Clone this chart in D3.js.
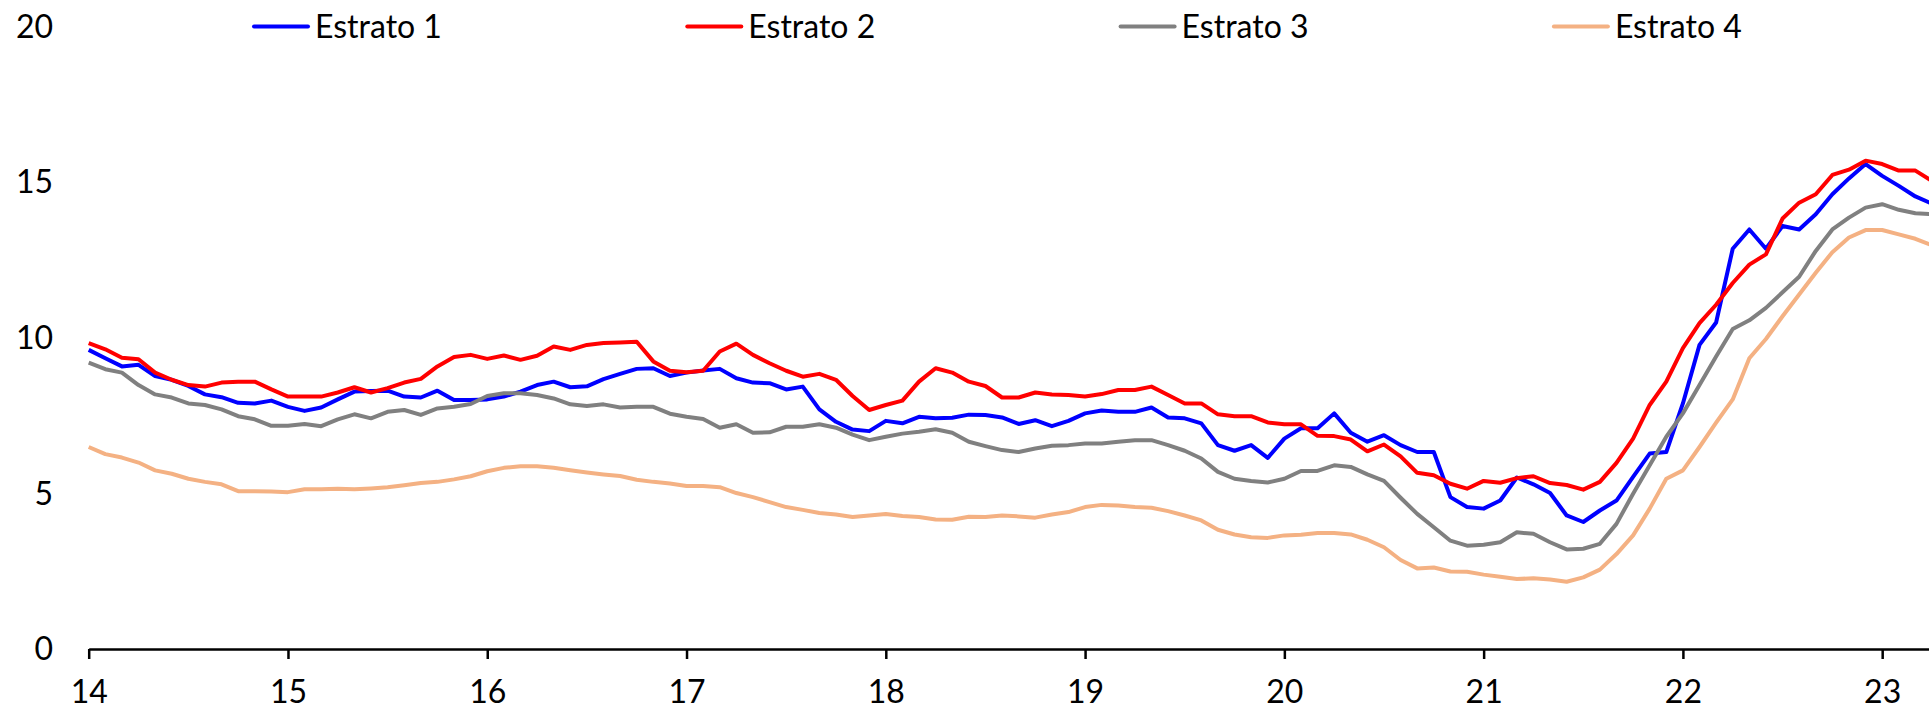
<!DOCTYPE html>
<html>
<head>
<meta charset="utf-8">
<script src="https://cdn.jsdelivr.net/npm/d3@7"></script>
<style>
  body { margin: 0; background: #fff; }
  svg { display: block; }
  text { font-family: Lato, "Open Sans", sans-serif; fill: #000; }
</style>
</head>
<body>
<svg width="1929" height="711"></svg>
<script>
// monthly series, Jan 2014 onwards
var estrato1 = [9.61, 9.34, 9.08, 9.13, 8.77, 8.65, 8.45, 8.18, 8.09, 7.91, 7.89, 7.98,
  7.78, 7.65, 7.76, 8.02, 8.27, 8.29, 8.30, 8.11, 8.08, 8.30, 8.00, 8.00,
  8.02, 8.11, 8.27, 8.48, 8.59, 8.41, 8.44, 8.67, 8.84, 9.00, 9.02, 8.77,
  8.88, 8.95, 9.00, 8.70, 8.56, 8.54, 8.34, 8.43, 7.70, 7.30, 7.05, 7.00,
  7.33, 7.25, 7.46, 7.41, 7.43, 7.53, 7.52, 7.44, 7.23, 7.35, 7.16, 7.33,
  7.57, 7.66, 7.62, 7.62, 7.76, 7.44, 7.41, 7.25, 6.55, 6.37, 6.55, 6.14,
  6.76, 7.09, 7.09, 7.57, 6.95, 6.66, 6.87, 6.55, 6.33, 6.33, 4.88, 4.56,
  4.51, 4.77, 5.51, 5.29, 5.01, 4.29, 4.08, 4.45, 4.77, 5.53, 6.28, 6.33,
  7.89, 9.77, 10.49, 12.86, 13.48, 12.86, 13.59, 13.48, 13.97, 14.61, 15.12, 15.58,
  15.20, 14.88, 14.54, 14.31];

var estrato2 = [9.83, 9.63, 9.36, 9.31, 8.88, 8.65, 8.48, 8.43, 8.56, 8.59, 8.59, 8.34,
  8.11, 8.11, 8.11, 8.24, 8.41, 8.24, 8.38, 8.56, 8.68, 9.08, 9.38, 9.45,
  9.32, 9.43, 9.29, 9.42, 9.72, 9.61, 9.77, 9.83, 9.85, 9.87, 9.24, 8.94,
  8.89, 8.94, 9.56, 9.81, 9.45, 9.18, 8.94, 8.75, 8.84, 8.65, 8.13, 7.68,
  7.84, 7.98, 8.59, 9.02, 8.88, 8.59, 8.45, 8.08, 8.08, 8.24, 8.18, 8.16,
  8.11, 8.19, 8.32, 8.32, 8.43, 8.16, 7.89, 7.89, 7.54, 7.48, 7.48, 7.28,
  7.22, 7.22, 6.85, 6.84, 6.73, 6.35, 6.57, 6.19, 5.66, 5.58, 5.31, 5.15,
  5.40, 5.34, 5.49, 5.55, 5.33, 5.27, 5.12, 5.37, 5.98, 6.76, 7.84, 8.59,
  9.67, 10.47, 11.06, 11.76, 12.35, 12.68, 13.83, 14.34, 14.61, 15.23, 15.40, 15.69,
  15.58, 15.37, 15.37, 15.04];

var estrato3 = [9.20, 8.99, 8.88, 8.48, 8.18, 8.08, 7.89, 7.84, 7.70, 7.48, 7.38, 7.17,
  7.17, 7.23, 7.16, 7.38, 7.54, 7.41, 7.62, 7.68, 7.52, 7.73, 7.78, 7.87,
  8.13, 8.22, 8.22, 8.16, 8.05, 7.86, 7.81, 7.86, 7.76, 7.78, 7.78, 7.56,
  7.46, 7.39, 7.11, 7.22, 6.95, 6.96, 7.14, 7.14, 7.22, 7.11, 6.89, 6.71,
  6.82, 6.92, 6.98, 7.06, 6.95, 6.66, 6.52, 6.39, 6.33, 6.44, 6.53, 6.55,
  6.60, 6.60, 6.66, 6.71, 6.71, 6.55, 6.37, 6.12, 5.69, 5.47, 5.40, 5.35,
  5.47, 5.72, 5.72, 5.90, 5.85, 5.61, 5.40, 4.86, 4.34, 3.91, 3.48, 3.32,
  3.35, 3.43, 3.75, 3.70, 3.43, 3.20, 3.22, 3.38, 4.02, 4.99, 5.90, 6.82,
  7.57, 8.48, 9.40, 10.28, 10.56, 10.96, 11.46, 11.96, 12.79, 13.48, 13.86, 14.18,
  14.29, 14.11, 14.00, 13.97];

var estrato4 = [6.49, 6.26, 6.15, 5.99, 5.74, 5.63, 5.47, 5.37, 5.29, 5.07, 5.07, 5.06,
  5.04, 5.13, 5.13, 5.15, 5.13, 5.16, 5.20, 5.26, 5.33, 5.37, 5.45, 5.55,
  5.71, 5.82, 5.87, 5.87, 5.82, 5.74, 5.67, 5.61, 5.56, 5.44, 5.37, 5.32,
  5.24, 5.24, 5.20, 5.01, 4.88, 4.72, 4.56, 4.47, 4.37, 4.32, 4.24, 4.29,
  4.34, 4.27, 4.24, 4.16, 4.15, 4.25, 4.24, 4.29, 4.26, 4.22, 4.32, 4.40,
  4.56, 4.63, 4.61, 4.56, 4.54, 4.43, 4.29, 4.13, 3.83, 3.68, 3.59, 3.57,
  3.65, 3.67, 3.73, 3.73, 3.68, 3.51, 3.27, 2.86, 2.59, 2.62, 2.49, 2.48,
  2.39, 2.32, 2.25, 2.27, 2.23, 2.16, 2.30, 2.55, 3.05, 3.65, 4.51, 5.47,
  5.74, 6.49, 7.27, 8.02, 9.34, 9.96, 10.69, 11.39, 12.09, 12.75, 13.22, 13.46,
  13.46, 13.32, 13.18, 12.97];

var seriesNames = ["Estrato 1", "Estrato 2", "Estrato 3", "Estrato 4"];
var seriesColors = ["#0000ff", "#ff0000", "#808080", "#f4b183"];
var yearTicks = [14, 15, 16, 17, 18, 19, 20, 21, 22, 23];
var valueTicks = [0, 5, 10, 15, 20];

var allSeries = [estrato1, estrato2, estrato3, estrato4];

var svg = d3.select("svg");

var x = d3.scaleLinear().domain([14, 23.25]).range([88.7, 1932]);
var y = d3.scaleLinear().domain([0, 20]).range([649, 26.5]);

// y labels, no axis line
svg.append("g")
  .selectAll("text")
  .data(valueTicks)
  .enter().append("text")
  .attr("x", 53)
  .attr("y", function(d) { return y(d); })
  .attr("dy", "0.35em")
  .attr("text-anchor", "end")
  .style("font-size", "32px")
  .text(function(d) { return d; });

// x axis
var xAxis = svg.append("g")
  .attr("transform", "translate(0," + y(0) + ")")
  .call(d3.axisBottom(x).tickValues(yearTicks).tickSize(10).tickSizeOuter(0).tickFormat(function(d) { return d; }));

xAxis.select(".domain").attr("stroke", "#000").attr("stroke-width", 2.5);
xAxis.selectAll(".tick line").attr("stroke", "#000").attr("stroke-width", 2.5);
xAxis.selectAll(".tick text")
  .attr("y", 43)
  .attr("dy", "0.35em")
  .style("font-size", "32px")
  .style("font-family", "Lato, 'Open Sans', sans-serif")
  .attr("fill", "#000");

var line = d3.line()
  .x(function(d, i) { return x(14 + i / 12); })
  .y(function(d) { return y(d); });

svg.append("g")
  .selectAll("path")
  .data(allSeries)
  .enter().append("path")
  .attr("fill", "none")
  .attr("stroke", function(d, i) { return seriesColors[i]; })
  .attr("stroke-width", 4)
  .attr("stroke-linejoin", "round")
  .attr("d", line);

// legend
var legend = svg.append("g")
  .selectAll("g")
  .data(seriesNames)
  .enter().append("g")
  .attr("transform", function(d, i) { return "translate(" + (315 + i * 433.3) + ",26.5)"; });

legend.append("line")
  .attr("x1", -61).attr("x2", -7)
  .attr("stroke", function(d, i) { return seriesColors[i]; })
  .attr("stroke-width", 4)
  .attr("stroke-linecap", "round");

legend.append("text")
  .attr("dy", "0.35em")
  .style("font-size", "32px")
  .text(function(d) { return d; });
</script>
</body>
</html>
